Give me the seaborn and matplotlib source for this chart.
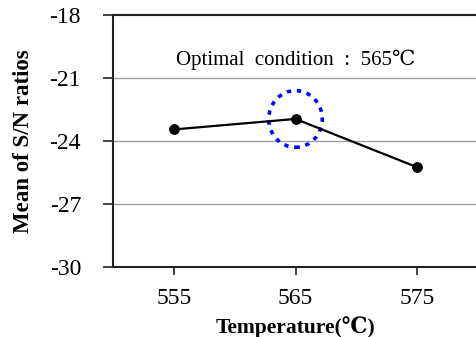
import matplotlib
matplotlib.use("Agg")
import matplotlib.pyplot as plt
import seaborn as sns
from matplotlib.patches import Ellipse

temperatures = [555, 565, 575]
sn_means = [-23.45, -22.95, -25.25]
y_ticks = [-30, -27, -24, -21, -18]
optimal_temp = 565
annotation = "Optimal  condition  :  565\u2103"

sns.set_style("white")
plt.rcParams['font.family'] = ['Liberation Serif', 'DejaVu Serif']
plt.rcParams['axes.unicode_minus'] = False
plt.rcParams['text.color'] = 'black'
plt.rcParams['axes.labelcolor'] = 'black'
plt.rcParams['xtick.color'] = 'black'
plt.rcParams['ytick.color'] = 'black'

fig = plt.figure(figsize=(4.76, 3.37), dpi=100)
ax = fig.add_axes([113/476, 70/337, 365/476, 252/337])

sns.lineplot(x=temperatures, y=sn_means, ax=ax, color='black', linewidth=1.6,
             marker='o', markersize=7, markeredgecolor='black', markerfacecolor='black')

ax.set_xlim(550, 580)
ax.set_ylim(-30, -18)
ax.set_xticks(temperatures)
ax.set_yticks(y_ticks)
ax.set_yticklabels([str(v) for v in y_ticks])
for v in y_ticks[1:-1]:
    ax.axhline(v, color='#a0a0a0', linewidth=1.0, zorder=0)

for s in ['left', 'top', 'bottom']:
    ax.spines[s].set_color('#222222')
    ax.spines[s].set_linewidth(1.5)
ax.spines['right'].set_visible(False)

ax.tick_params(axis='y', direction='out', length=7, width=1.2, pad=16, labelsize=17, left=True, color='#222222')
ax.tick_params(axis='x', direction='out', length=6, width=1.2, pad=9, labelsize=17, bottom=True, color='#222222')

ax.set_ylabel("Mean of S/N ratios", fontsize=16.5, fontweight='bold', labelpad=11)
ax.set_xlabel("Temperature(\u2103)", fontsize=15.5, fontweight='bold', labelpad=5)

idx = temperatures.index(optimal_temp)
ell = Ellipse((temperatures[idx], sn_means[idx]), width=4.4, height=2.7,
              fill=False, edgecolor='blue', linewidth=2.6, linestyle=(0, (1.2, 1.6)))
ax.add_patch(ell)

ax.text(565, -20.15, annotation, ha='center', va='center', fontsize=15)

fig.savefig("out.png", dpi=100)
